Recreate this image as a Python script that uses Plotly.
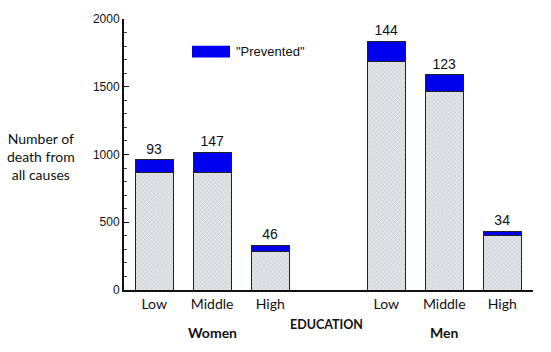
import plotly.graph_objects as go

groups = ["Women", "Women", "Women", "Men", "Men", "Men"]
education = ["Low", "Middle", "High", "Low", "Middle", "High"]
positions = [0, 1, 2, 4, 5, 6]
base_deaths = [870, 870, 285, 1690, 1465, 400]
prevented = [93, 147, 46, 144, 123, 34]
y_ticks = [0, 500, 1000, 1500, 2000]

arial = "Liberation Sans, Arial, sans-serif"
calibri = "Lato, Open Sans, sans-serif"

fig = go.Figure()
fig.add_trace(go.Bar(
    x=positions, y=base_deaths, width=0.66,
    marker=dict(color="#dfe4ea",
                line=dict(color="#222222", width=1),
                pattern=dict(shape="x", fgcolor="#8a8f96", bgcolor="#e3e7ec",
                             size=3, solidity=0.25, fillmode="overlay")),
    showlegend=False, hoverinfo="skip"))
fig.add_trace(go.Bar(
    x=positions, y=prevented, width=0.66,
    marker=dict(color="#0000ee", line=dict(color="#222222", width=1)),
    text=[str(v) for v in prevented], textposition="outside",
    textfont=dict(size=14, color="#111111", family=arial),
    cliponaxis=False, showlegend=False, name='"Prevented"'))

fig.update_layout(
    barmode="stack",
    width=551, height=352,
    margin=dict(l=124, r=18, t=16, b=62),
    plot_bgcolor="white", paper_bgcolor="white",
    font=dict(family=arial, size=12, color="#111111"),
    xaxis=dict(range=[-0.52, 6.53], tickvals=positions, ticktext=education,
               showline=True, linecolor="#111111", linewidth=2,
               ticks="", showgrid=False, zeroline=False,
               tickfont=dict(size=14, family=calibri)),
    yaxis=dict(range=[0, 2000], tickvals=y_ticks,
               showline=True, linecolor="#111111", linewidth=2,
               ticks="inside", ticklen=5, tickcolor="#111111", tickwidth=1,
               minor=dict(dtick=100, ticks="inside", ticklen=3, tickcolor="#444444"),
               showgrid=False, zeroline=False, tickfont=dict(size=12, family=arial)),
)

# legend swatch + text
fig.add_shape(type="rect", xref="paper", yref="paper",
              x0=(192-124)/409, x1=(230-124)/409, y0=(290-55)/274, y1=(290-43)/274,
              fillcolor="#0000ee", line=dict(width=0))
fig.add_annotation(xref="paper", yref="paper", x=(234-124)/409, y=(290-49)/274,
                   text='"Prevented"', showarrow=False, xanchor="left", yanchor="middle",
                   font=dict(size=13, family=arial))

# group labels
fig.add_annotation(x=1, y=-(333-290)/274, xref="x", yref="paper", text="<b>Women</b>",
                   showarrow=False, yanchor="middle", font=dict(size=14, family=calibri))
fig.add_annotation(x=5, y=-(333-290)/274, xref="x", yref="paper", text="<b>Men</b>",
                   showarrow=False, yanchor="middle", font=dict(size=14, family=calibri))
fig.add_annotation(x=(326-124)/409, y=-(325-290)/274, xref="paper", yref="paper",
                   text="<b>EDUCATION</b>", showarrow=False, yanchor="middle",
                   font=dict(size=12.5, family=calibri))
# y-axis title
fig.add_annotation(x=(41-124)/409, y=(290-155)/274, xref="paper", yref="paper",
                   text="Number of<br>death from<br>all causes", showarrow=False,
                   align="center", xanchor="center", yanchor="middle",
                   font=dict(size=14, family=calibri))

fig.write_html("out.html")
